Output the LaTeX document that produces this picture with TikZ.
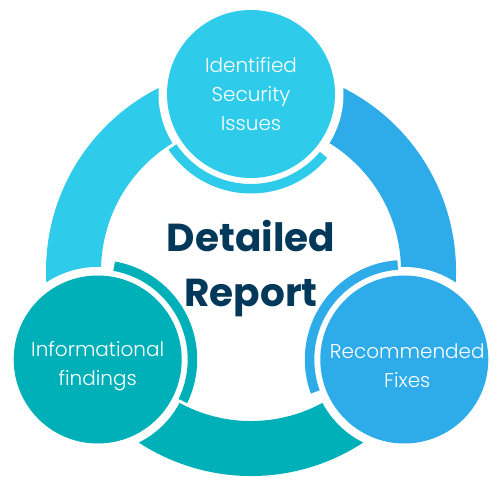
\documentclass[tikz,border=0pt]{standalone}
\usepackage{fontspec}
\setmainfont{Poppins}
\IfFontExistsTF{Poppins Light}{\newfontfamily\lightfont{Poppins Light}}{\newfontfamily\lightfont{Poppins}}
\usetikzlibrary{calc}
\definecolor{cyanC}{HTML}{2ECBEB}
\definecolor{blueC}{HTML}{2EACE9}
\definecolor{tealC}{HTML}{00B0B9}
\definecolor{navyC}{HTML}{023859}
\tikzset{
  circtext/.style={text=white, align=center, inner sep=0pt, font=\lightfont\fontsize{20}{29}\selectfont},
  titletext/.style={text=navyC, align=center, inner sep=0pt, font=\fontsize{39}{55}\selectfont\bfseries},
}
\newcommand{\ringseg}[3]{% color, start, end
  \fill[#1] ([shift={(rc)}]#2:205) arc[start angle=#2, end angle=#3, radius=205]
    -- ([shift={(rc)}]#3:150) arc[start angle=#3, end angle=#2, radius=150] -- cycle;}
\newcommand{\thinarc}[4]{% color, center, start, end
  \fill[#1] ([shift={(#2)}]#3:99.5) arc[start angle=#3, end angle=#4, radius=99.5]
    -- ([shift={(#2)}]#4:90) arc[start angle=#4, end angle=#3, radius=90] -- cycle;}
\begin{document}
\begin{tikzpicture}[x=1pt,y=1pt]
\useasboundingbox (0,0) rectangle (500,500);
\coordinate (rc) at (251,229);
\coordinate (ct) at ($(rc)+(90:177)$);
\coordinate (cbl) at ($(rc)+(210:177)$);
\coordinate (cbr) at ($(rc)+(330:177)$);
% thick ring segments
\ringseg{cyanC}{90}{210}
\ringseg{blueC}{-30}{90}
\ringseg{tealC}{210}{330}
% white gaps
\fill[white] (ct) circle[radius=92.5];
\fill[white] (cbl) circle[radius=92.5];
\fill[white] (cbr) circle[radius=92.5];
% thin arcs
\thinarc{cyanC}{ct}{214}{320}
\thinarc{blueC}{cbr}{94}{200}
\thinarc{tealC}{cbl}{334}{440}
% circles
\fill[cyanC] (ct) circle[radius=84];
\fill[tealC] (cbl) circle[radius=84];
\fill[blueC] (cbr) circle[radius=84];
% texts
\node[circtext] (tt) at (ct) {Identified\\Security\\Issues};
\node[circtext] (tbl) at ($(cbl)+(0,-7)$) {Informational\\findings};
\node[circtext] (tbr) at ($(cbr)+(3,-6.5)$) {Recommended\\Fixes};
\node[titletext] (title) at (251,231) {Detailed\\Report};
\end{tikzpicture}
\end{document}
